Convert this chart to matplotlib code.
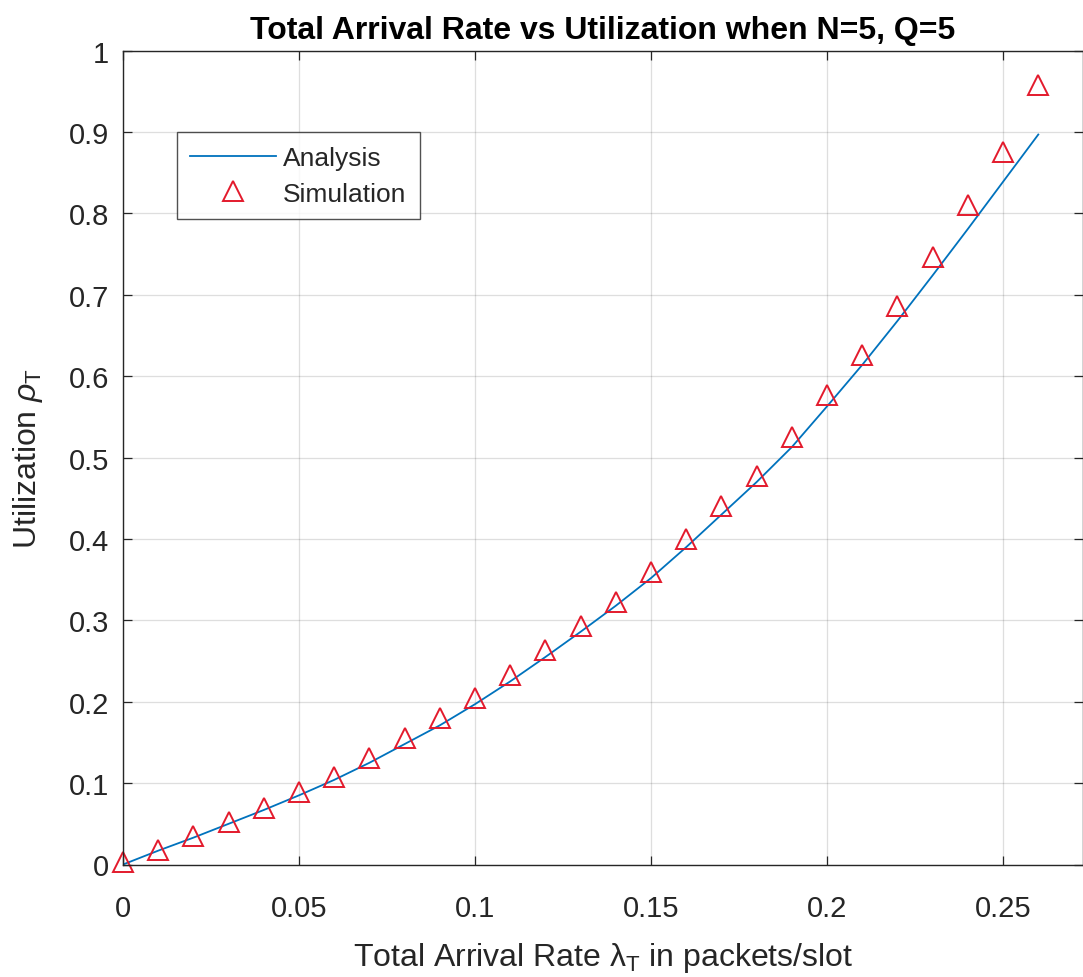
import numpy as np
import matplotlib.pyplot as plt

# data
lam = [0.00, 0.01, 0.02, 0.03, 0.04, 0.05, 0.06, 0.07, 0.08, 0.09,
       0.10, 0.11, 0.12, 0.13, 0.14, 0.15, 0.16, 0.17, 0.18, 0.19,
       0.20, 0.21, 0.22, 0.23, 0.24, 0.25, 0.26]
rho_analysis = [0.000, 0.017, 0.033, 0.050, 0.067, 0.085, 0.104, 0.125, 0.148, 0.171,
                0.197, 0.225, 0.255, 0.286, 0.318, 0.352, 0.390, 0.430, 0.470, 0.513,
                0.563, 0.614, 0.668, 0.724, 0.781, 0.839, 0.897]
rho_sim = [0.003, 0.018, 0.035, 0.052, 0.070, 0.089, 0.108, 0.131, 0.155, 0.180,
           0.204, 0.233, 0.263, 0.293, 0.322, 0.360, 0.400, 0.440, 0.478, 0.525,
           0.577, 0.626, 0.686, 0.746, 0.811, 0.875, 0.958]

xticks = [0, 0.05, 0.1, 0.15, 0.2, 0.25]
xticklabels = ['0', '0.05', '0.1', '0.15', '0.2', '0.25']
yticks = [0, 0.1, 0.2, 0.3, 0.4, 0.5, 0.6, 0.7, 0.8, 0.9, 1]
yticklabels = ['0', '0.1', '0.2', '0.3', '0.4', '0.5', '0.6', '0.7', '0.8', '0.9', '1']

plt.rcParams['font.family'] = ['Liberation Sans', 'DejaVu Sans']
plt.rcParams['mathtext.fontset'] = 'custom'
plt.rcParams['mathtext.rm'] = 'Liberation Sans'
plt.rcParams['mathtext.it'] = 'Liberation Sans:italic'

dark = '#262626'
blue = (0, 0.447, 0.741)
red = '#e31a2c'

fig = plt.figure(figsize=(10.83, 9.78), dpi=100)
ax = fig.add_axes([123/1083, 1 - 865.5/978, 960/1083, 813.8/978])

ax.plot(lam, rho_analysis, color=blue, lw=1.3, label='Analysis')
ax.plot(lam, rho_sim, ls='none', marker='^', ms=15, mfc='none', mec=red, mew=1.4,
        label='Simulation', clip_on=False)

ax.set_xlim(0, 0.2727)
ax.set_ylim(0, 1)
ax.set_xticks(xticks)
ax.set_xticklabels(xticklabels)
ax.set_yticks(yticks)
ax.set_yticklabels(yticklabels)

ax.grid(True, color=dark, alpha=0.15, lw=0.9)
ax.tick_params(direction='in', length=6.5, width=0.9, colors=dark, labelsize=21,
               top=True, right=True)
ax.tick_params(axis='x', pad=21)
ax.tick_params(axis='y', pad=10)
for s in ax.spines.values():
    s.set_color(dark)
    s.set_linewidth(1.0)

ax.set_title('Total Arrival Rate vs Utilization when N=5, Q=5', fontsize=23,
             fontweight='bold', color='black', pad=9)
ax.set_xlabel(r'Total Arrival Rate $\mathrm{\lambda}_{\rm T}$ in packets/slot', fontsize=23,
              color=dark, labelpad=13)
ax.set_ylabel(r'Utilization $\rho_{\rm T}$', fontsize=23, color=dark, labelpad=17)

leg = ax.legend(loc='upper left', bbox_to_anchor=(0.056, 0.900), borderaxespad=0,
                fontsize=19, frameon=True, fancybox=False, edgecolor=dark,
                handlelength=3.23, handletextpad=0.27, labelspacing=0.45, borderpad=0.52)
leg.get_frame().set_linewidth(1.0)
for t in leg.get_texts():
    t.set_color(dark)

fig.savefig('out.png', dpi=100)
